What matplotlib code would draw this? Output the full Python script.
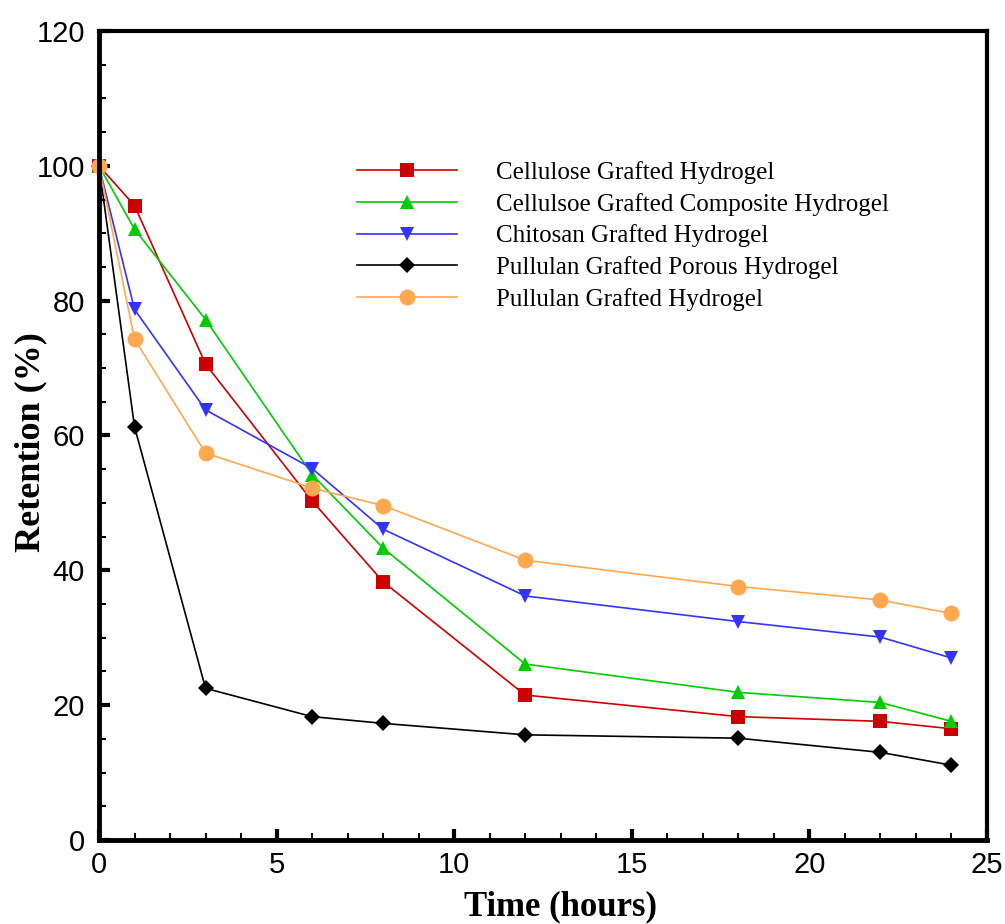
import matplotlib
matplotlib.use("Agg")
import matplotlib.pyplot as plt
from matplotlib.ticker import MultipleLocator

time_h = [0, 1, 3, 6, 8, 12, 18, 22, 24]
cellulose = [100, 94.1, 70.6, 50.3, 38.3, 21.5, 18.3, 17.6, 16.5]
cellulose_comp = [100, 90.6, 77.2, 54.2, 43.3, 26.1, 21.9, 20.4, 17.6]
chitosan = [100, 78.7, 63.8, 55.1, 46.1, 36.2, 32.4, 30.1, 27.0]
pullulan_porous = [100, 61.3, 22.5, 18.3, 17.3, 15.6, 15.1, 13.0, 11.1]
pullulan = [100, 74.3, 57.4, 52.2, 49.6, 41.5, 37.6, 35.6, 33.6]

labels = ["Cellulose Grafted Hydrogel",
          "Cellulsoe Grafted Composite Hydrogel",
          "Chitosan Grafted Hydrogel",
          "Pullulan Grafted Porous Hydrogel",
          "Pullulan Grafted Hydrogel"]

fig = plt.figure(figsize=(10.05, 9.24), dpi=100)
ax = fig.add_axes([0.0985, 0.0909, 0.8835, 0.8756])

styles = [
    (cellulose, "#CC0000", "s", 9.5),
    (cellulose_comp, "#00CC00", "^", 9.5),
    (chitosan, "#3333FF", "v", 9.5),
    (pullulan_porous, "#000000", "D", 8),
    (pullulan, "#FFA850", "o", 11.5),
]
for (vals, col, mk, ms), lab in zip(styles, labels):
    ax.plot(time_h, vals, color=col, marker=mk, markersize=ms, lw=1.2,
            markeredgewidth=0, label=lab, clip_on=False)

ax.set_xlim(0, 25)
ax.set_ylim(0, 120)
ax.xaxis.set_major_locator(MultipleLocator(5))
ax.xaxis.set_minor_locator(MultipleLocator(1))
ax.yaxis.set_major_locator(MultipleLocator(20))
ax.yaxis.set_minor_locator(MultipleLocator(5))
ax.tick_params(which="major", direction="in", length=8, width=3,
               labelsize=21, pad=8, top=False, right=False)
ax.tick_params(which="minor", direction="in", length=5, width=1.5,
               top=False, right=False)
ax.tick_params(axis="y", which="major", pad=10)
for lab in ax.get_xticklabels() + ax.get_yticklabels():
    lab.set_fontfamily("Liberation Sans")
for s in ["left", "bottom"]:
    ax.spines[s].set_linewidth(3.5)
for s in ["top", "right"]:
    ax.spines[s].set_linewidth(3)

ax.set_xlabel("Time (hours)", fontfamily="Liberation Serif", fontweight="bold",
              fontsize=25)
ax.set_ylabel("Retention (%)", fontfamily="Liberation Serif", fontweight="bold",
              fontsize=26)
ax.xaxis.set_label_coords(0.52, -0.062)
ax.yaxis.set_label_coords(-0.058, 0.492)

leg = ax.legend(loc="upper left", bbox_to_anchor=(357 / 1005, 1 - 161 / 924),
                bbox_transform=fig.transFigure, frameon=False, borderpad=0,
                borderaxespad=0, handlelength=4.0, handletextpad=1.55,
                labelspacing=0.35, prop={"family": "Liberation Serif", "size": 18})

fig.savefig("out.png", dpi=100)
